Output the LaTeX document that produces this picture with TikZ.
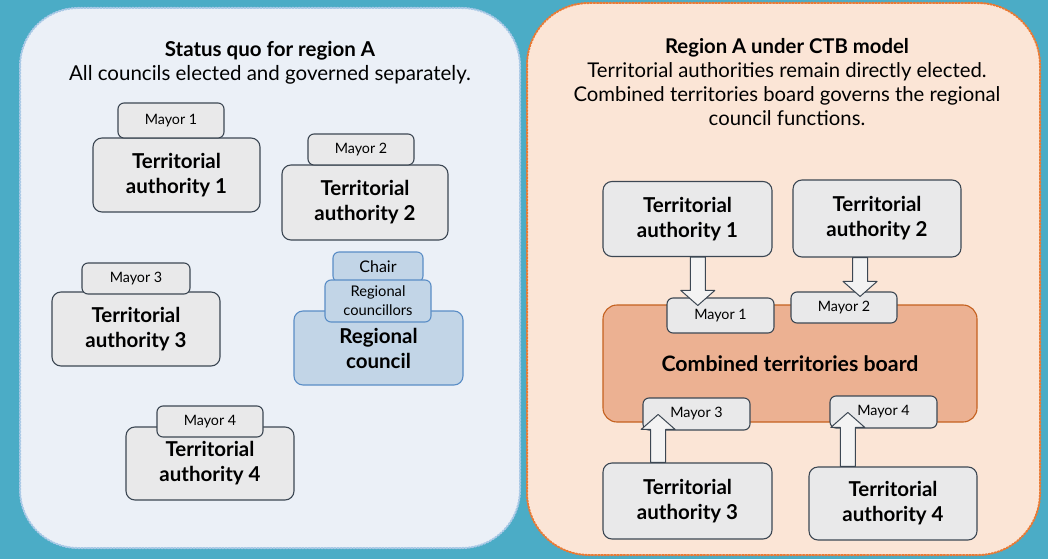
\documentclass[tikz,border=0pt]{standalone}
\usepackage{fontspec}
\setmainfont{Lato}
\usepackage{tikz}
\usetikzlibrary{calc}
\usetikzlibrary{positioning}
\definecolor{seablue}{HTML}{4BACC6}
\definecolor{mistblue}{HTML}{EBF0F7}
\definecolor{mistedge}{HTML}{A9C9E6}
\definecolor{peach}{HTML}{FBE5D6}
\definecolor{peachedge}{HTML}{E97A35}
\definecolor{salmon}{HTML}{ECB192}
\definecolor{rust}{HTML}{C5611F}
\definecolor{boxfill}{HTML}{E9E9EA}
\definecolor{boxedge}{HTML}{3C4753}
\definecolor{rcfill}{HTML}{C2D5E7}
\definecolor{rcedge}{HTML}{5A8DC6}
\definecolor{arrowfill}{HTML}{F3F3F3}
\tikzset{
	panel/.style={rounded corners=58pt, line width=2pt, dash pattern=on 1.6pt off 1.6pt},
	tabox/.style={draw=boxedge, fill=boxfill, line width=1.1pt, rounded corners=9pt, align=center, inner sep=0pt, font=\fontsize{20.5}{25}\selectfont\bfseries},
	mayorbox/.style={draw=boxedge, fill=boxfill, line width=1.1pt, rounded corners=6pt, align=center, inner sep=0pt, font=\fontsize{14.3}{19}\selectfont},
	bluebox/.style={draw=rcedge, fill=rcfill},
	arrowbody/.style={draw=boxedge, fill=arrowfill, line width=1pt, line join=round},
}
\newcommand{\bigarrow}[2]{%
	\path (#1 -| #2) coordinate (ab) ($(#2)!15pt!(ab)$) coordinate (ah);
	\draw[arrowbody] ([xshift=-7.5pt]ab) -- ([xshift=-7.5pt]ah) -- ([xshift=-17pt]ah) -- (#2)
		-- ([xshift=17pt]ah) -- ([xshift=7.5pt]ah) -- ([xshift=7.5pt]ab) -- cycle;}

\begin{document}
\begin{tikzpicture}[x=1pt, y=-1pt, line cap=round, line join=round]
	\fill[seablue] (0,0) rectangle (1048,559);
	\useasboundingbox (0,0) rectangle (1048,559);
	\draw[panel, fill=mistblue, draw=mistedge] (20,8) rectangle (520,548);
	\draw[panel, fill=peach, draw=peachedge, rounded corners=62pt] (527,3) rectangle (1040,555);
	\node[align=center, font=\fontsize{20.5}{24.5}\selectfont] (titleleft) at (270,63) {\textbf{Status quo for region A}\\All councils elected and governed separately.};
	\node[align=center, font=\fontsize{20.3}{24.3}\selectfont] (titleright) at (787,82) {\textbf{Region A under CTB model}\\Territorial authorities remain directly elected.\\Combined territories board governs the regional\\council functions.};
	% status quo
	\node[tabox, minimum width=167pt, minimum height=74pt] (ta1l) at (176.5,175) {Territorial\\authority 1};
	\node[mayorbox, minimum width=106pt, minimum height=35pt] (m1l) at (171,120.5) {Mayor 1};
	\node[tabox, minimum width=166pt, minimum height=75pt] (ta2l) at (365,202.5) {Territorial\\authority 2};
	\node[mayorbox, minimum width=106pt, minimum height=31pt] (m2l) at (361,149.5) {Mayor 2};
	\node[tabox, minimum width=168pt, minimum height=74pt] (ta3l) at (136,329) {Territorial\\authority 3};
	\node[mayorbox, minimum width=108pt, minimum height=31pt] (m3l) at (136,278.5) {Mayor 3};
	\node[tabox, minimum width=168pt, minimum height=73pt] (ta4l) at (210,463.5) {Territorial\\authority 4};
	\node[mayorbox, minimum width=106pt, minimum height=31pt] (m4l) at (210,421.5) {Mayor 4};
	\node[tabox, bluebox, minimum width=169pt, minimum height=74pt] (rcouncil) at (378.5,348) {Regional\\council};
	\node[mayorbox, bluebox, minimum width=90pt, minimum height=30pt, font=\fontsize{16}{19}\selectfont] (chair) at (378,267) {Chair};
	\node[mayorbox, bluebox, minimum width=106pt, minimum height=42pt, font=\fontsize{14.7}{19}\selectfont] (rcllrs) at (378,301) {Regional\\councillors};
	% CTB model
	\node[tabox, minimum width=169pt, minimum height=75pt] (ta1r) at (687.5,219) {Territorial\\authority 1};
	\node[tabox, minimum width=168pt, minimum height=77pt] (ta2r) at (877,218.5) {Territorial\\authority 2};
	\node[tabox, minimum width=169pt, minimum height=76pt] (ta3r) at (687.5,501) {Territorial\\authority 3};
	\node[tabox, minimum width=168pt, minimum height=73pt] (ta4r) at (893,503.5) {Territorial\\authority 4};
	\node[tabox, draw=rust, fill=salmon, minimum width=374pt, minimum height=117pt, rounded corners=14pt, font=\fontsize{21.3}{22}\selectfont\bfseries] (ctb) at (790,363.5) {Combined territories board};
	\node[mayorbox, minimum width=107pt, minimum height=35pt] (m1r) at (720.5,315.5) {Mayor 1};
	\node[mayorbox, minimum width=106pt, minimum height=31pt] (m2r) at (844,307.5) {Mayor 2};
	\node[mayorbox, minimum width=107pt, minimum height=32pt] (m3r) at (696.5,414) {Mayor 3};
	\node[mayorbox, minimum width=107pt, minimum height=32pt] (m4r) at (883.5,412) {Mayor 4};
	\coordinate (tip1) at ($(m1r.north west)!0.29!(m1r.north east)+(0,8)$);
	\coordinate (tip2) at ($(m2r.north west)!0.65!(m2r.north east)+(0,5)$);
	\coordinate (tip3) at ($(m3r.north west)!0.145!(m3r.north east)+(0,17)$);
	\coordinate (tip4) at ($(m4r.north west)!0.17!(m4r.north east)+(0,17)$);
	\bigarrow{ta1r.south}{tip1}
	\bigarrow{ta2r.south}{tip2}
	\bigarrow{ta3r.north}{tip3}
	\bigarrow{ta4r.north}{tip4}
\end{tikzpicture}
\end{document}
